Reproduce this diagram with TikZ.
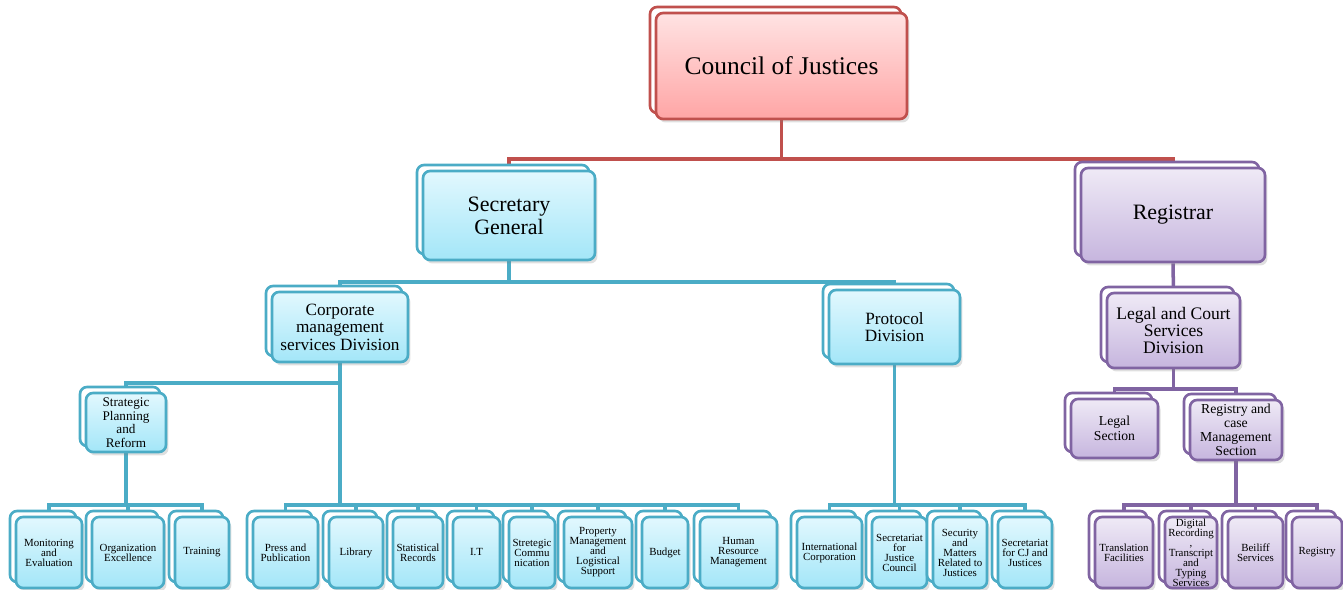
\documentclass[tikz,border=0pt]{standalone}
\usepackage{fontspec}
\setmainfont{Liberation Serif}
\usetikzlibrary{shadows,backgrounds}

\definecolor{cjRed}{HTML}{C0504D}
\definecolor{cjRedTop}{HTML}{FFE3E3}
\definecolor{cjRedBot}{HTML}{FFA5A5}
\definecolor{cjBlue}{HTML}{4BACC6}
\definecolor{cjBlueTop}{HTML}{E2F8FE}
\definecolor{cjBlueBot}{HTML}{A3E6F8}
\definecolor{cjPurple}{HTML}{8064A2}
\definecolor{cjPurpleTop}{HTML}{EFEAF6}
\definecolor{cjPurpleBot}{HTML}{C6B5DE}

\tikzset{
  unit/.style={rounded corners=0.14cm, line width=1.5pt, align=center, inner sep=1pt,
    draw=#1, top color=#1Top, bottom color=#1Bot,
    copy shadow={shadow xshift=-0.12cm, shadow yshift=0.12cm, fill=white, draw=#1, line width=1.5pt},
    drop shadow={shadow xshift=0.05cm, shadow yshift=-0.07cm, opacity=0.25}},
  leaf/.style={unit=#1, minimum height=1.42cm, font=\fontsize{6.2}{5.7}\selectfont},
  link/.style={draw=#1, line width=2pt}
}

\begin{document}
\begin{tikzpicture}[x=0.02cm, y=-0.02cm]
\useasboundingbox (0,0) rectangle (1343,590);

% top levels
\node (CJ) [unit=cjRed, minimum width=5.02cm, minimum height=2.12cm, font=\fontsize{14.5}{16}\selectfont] at (781.5,66) {Council of Justices};
\node (SG) [unit=cjBlue, minimum width=3.44cm, minimum height=1.78cm, font=\fontsize{12.5}{13}\selectfont] at (509,215.5) {Secretary\\General};
\node (REG) [unit=cjPurple, minimum width=3.68cm, minimum height=1.88cm, font=\fontsize{12.5}{13}\selectfont] at (1173,215) {Registrar};

% divisions
\node (CMS) [unit=cjBlue, minimum width=2.72cm, minimum height=1.40cm, font=\fontsize{9.8}{9.9}\selectfont] at (340,327) {Corporate\\management\\services Division};
\node (PD) [unit=cjBlue, minimum width=2.62cm, minimum height=1.48cm, font=\fontsize{9.8}{9.6}\selectfont] at (894.5,327) {Protocol\\Division};
\node (LCS) [unit=cjPurple, minimum width=2.66cm, minimum height=1.50cm, font=\fontsize{10}{9.6}\selectfont] at (1173.5,330.5) {Legal and Court\\Services\\Division};

% sections
\node (SPR) [unit=cjBlue, minimum width=1.60cm, minimum height=1.18cm, font=\fontsize{7.5}{7.7}\selectfont] at (126,422.5) {Strategic\\Planning\\and\\Reform};
\node (LS) [unit=cjPurple, minimum width=1.74cm, minimum height=1.18cm, font=\fontsize{7.8}{8.5}\selectfont] at (1114.5,428.5) {Legal\\Section};
\node (RCM) [unit=cjPurple, minimum width=1.84cm, minimum height=1.20cm, font=\fontsize{7.8}{8}\selectfont] at (1236,430) {Registry and\\case\\Management\\Section};

% units under strategic planning
\node (ME) [leaf=cjBlue, minimum width=1.32cm] at (49,552.5) {Monitoring\\and\\Evaluation};
\node (OE) [leaf=cjBlue, minimum width=1.44cm] at (128,552.5) {Organization\\Excellence};
\node (TR) [leaf=cjBlue, minimum width=1.08cm] at (202,552.5) {Training};

% units under corporate management
\node (PP) [leaf=cjBlue, minimum width=1.30cm] at (285.5,552.5) {Press and\\Publication};
\node (LIB) [leaf=cjBlue, minimum width=1.08cm] at (356,552.5) {Library};
\node (SR) [leaf=cjBlue, minimum width=1.00cm] at (418,552.5) {Statistical\\Records};
\node (IT) [leaf=cjBlue, minimum width=0.94cm] at (476.5,552.5) {I.T};
\node (SC) [leaf=cjBlue, minimum width=0.92cm] at (532,552.5) {Stretegic\\Commu\\nication};
\node (PML) [leaf=cjBlue, minimum width=1.36cm] at (598,552.5) {Property\\Management\\and\\Logistical\\Support};
\node (BUD) [leaf=cjBlue, minimum width=0.92cm] at (665,552.5) {Budget};
\node (HRM) [leaf=cjBlue, minimum width=1.54cm] at (738.5,552.5) {Human\\Resource\\Management};

% units under protocol
\node (IC) [leaf=cjBlue, minimum width=1.30cm] at (829.5,552.5) {International\\Corporation};
\node (SJC) [leaf=cjBlue, minimum width=1.10cm] at (899.5,552.5) {Secretariat\\for\\Justice\\Council};
\node (SMR) [leaf=cjBlue, minimum width=1.08cm] at (960,552.5) {Security\\and\\Matters\\Related to\\Justices};
\node (SCJ) [leaf=cjBlue, minimum width=1.08cm] at (1025,552.5) {Secretariat\\for CJ and\\Justices};

% units under registry and case management
\node (TF) [leaf=cjPurple, minimum width=1.16cm] at (1124,552.5) {Translation\\Facilities};
\node (DR) [leaf=cjPurple, minimum width=1.04cm, inner sep=0pt] at (1191,552.5) {Digital\\Recording\\,\\Transcript\\and\\Typing\\Services};
\node (BS) [leaf=cjPurple, minimum width=1.10cm] at (1255.5,552.5) {Beiliff\\Services};
\node (RG) [leaf=cjPurple, minimum width=1.00cm] at (1317,552.5) {Registry};

\coordinate (topbus) at (0,159);
\coordinate (midbus) at (0,282);
\coordinate (sprbus) at (0,383);
\coordinate (lcsbus) at (0,389);
\coordinate (lowbus) at (0,505);

\begin{scope}[on background layer]
\draw[link=cjRed] (SG.north) |- (REG.north |- topbus) -- (REG.north);
\draw[link=cjRed] (CJ.south) -- (CJ.south |- topbus);

\draw[link=cjBlue] (CMS.north) |- (PD.north |- midbus) -- (PD.north);
\draw[link=cjBlue] (SG.south) -- (SG.south |- midbus);
\draw[link=cjBlue] (SPR.north) |- (CMS.south |- sprbus);
\draw[link=cjBlue] (CMS.south) -- (CMS.south |- lowbus);
\draw[link=cjBlue] (SPR.south) -- (SPR.south |- lowbus);
\draw[link=cjBlue] (PD.south) -- (PD.south |- lowbus);

\draw[link=cjBlue] (ME.north) |- (SPR.south |- lowbus);
\draw[link=cjBlue] (OE.north) |- (SPR.south |- lowbus);
\draw[link=cjBlue] (TR.north) |- (SPR.south |- lowbus);

\draw[link=cjBlue] (PP.north) |- (CMS.south |- lowbus);
\draw[link=cjBlue] (LIB.north) |- (CMS.south |- lowbus);
\draw[link=cjBlue] (SR.north) |- (CMS.south |- lowbus);
\draw[link=cjBlue] (IT.north) |- (CMS.south |- lowbus);
\draw[link=cjBlue] (SC.north) |- (CMS.south |- lowbus);
\draw[link=cjBlue] (PML.north) |- (CMS.south |- lowbus);
\draw[link=cjBlue] (BUD.north) |- (CMS.south |- lowbus);
\draw[link=cjBlue] (HRM.north) |- (CMS.south |- lowbus);

\draw[link=cjBlue] (IC.north) |- (PD.south |- lowbus);
\draw[link=cjBlue] (SJC.north) |- (PD.south |- lowbus);
\draw[link=cjBlue] (SMR.north) |- (PD.south |- lowbus);
\draw[link=cjBlue] (SCJ.north) |- (PD.south |- lowbus);

\draw[link=cjPurple] (REG.south) -- (LCS.north);
\draw[link=cjPurple] (LS.north) |- (RCM.north |- lcsbus) -- (RCM.north);
\draw[link=cjPurple] (LCS.south) -- (LCS.south |- lcsbus);
\draw[link=cjPurple] (RCM.south) -- (RCM.south |- lowbus);

\draw[link=cjPurple] (TF.north) |- (RCM.south |- lowbus);
\draw[link=cjPurple] (DR.north) |- (RCM.south |- lowbus);
\draw[link=cjPurple] (BS.north) |- (RCM.south |- lowbus);
\draw[link=cjPurple] (RG.north) |- (RCM.south |- lowbus);
\end{scope}
\end{tikzpicture}
\end{document}
